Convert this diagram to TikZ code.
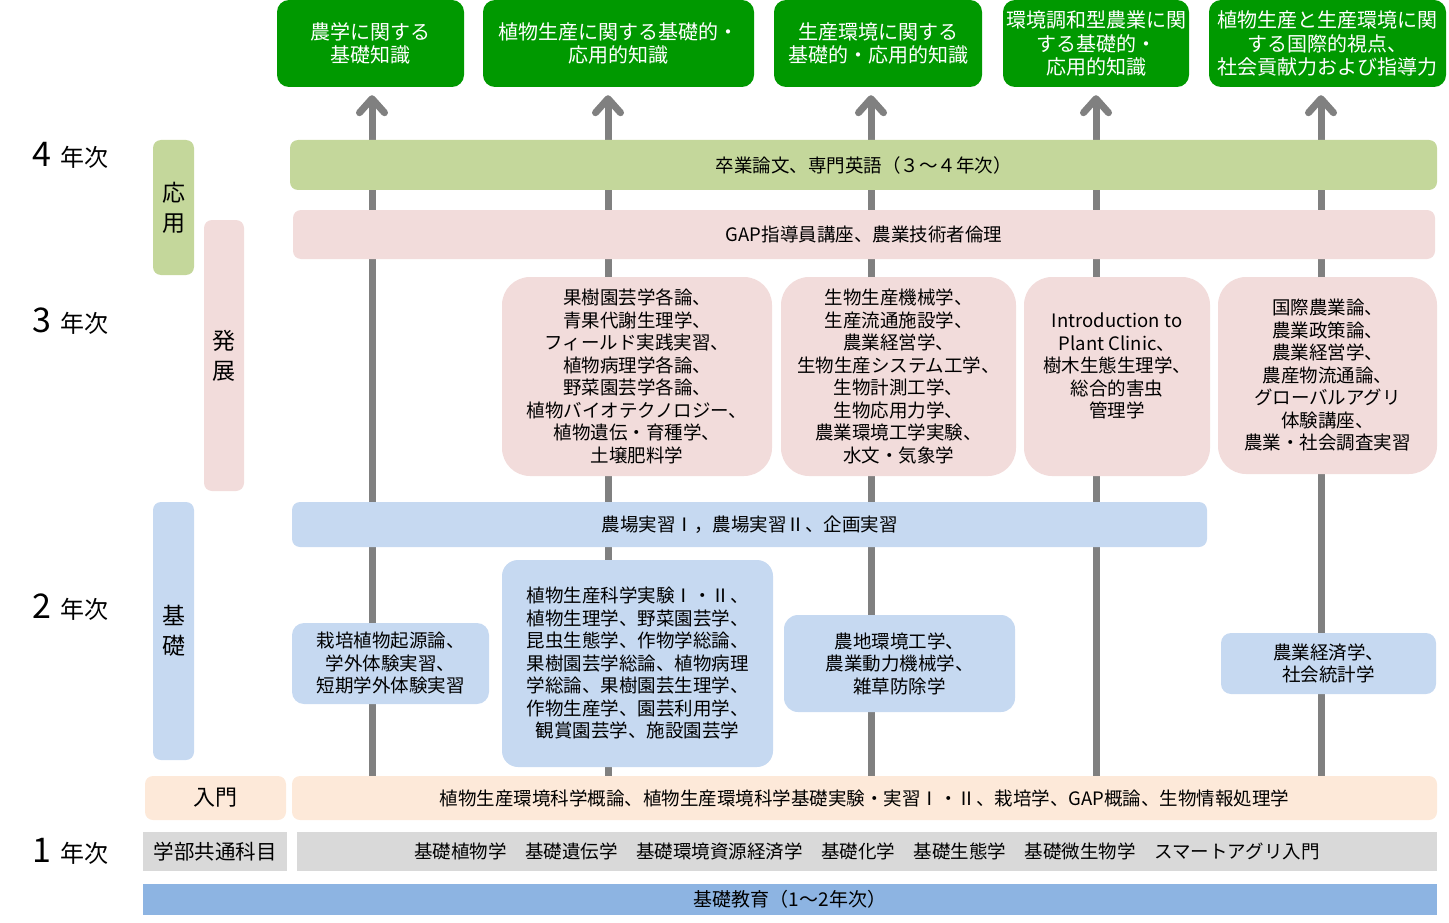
\documentclass[tikz,border=0pt]{standalone}
\usepackage{fontspec}
\setmainfont{Noto Sans CJK JP}
\usetikzlibrary{arrows.meta, backgrounds}

\definecolor{goalgreen}{HTML}{009900}
\definecolor{applgreen}{HTML}{C4D79B}
\definecolor{devpink}{HTML}{F2DCDB}
\definecolor{basicblue}{HTML}{C6D9F1}
\definecolor{intropeach}{HTML}{FDE9D9}
\definecolor{commongray}{HTML}{D9D9D9}
\definecolor{edublue}{HTML}{8DB4E2}
\definecolor{flowgray}{HTML}{808080}

\begin{document}
\begin{tikzpicture}[x=1pt, y=-1pt,
    box/.style={inner sep=0pt, align=center, font=\fontsize{18.5}{22.5}\selectfont},
    goal/.style={box, fill=goalgreen, rounded corners=12pt, text=white, font=\fontsize{20}{23.5}\selectfont},
    band/.style={box, rounded corners=8pt},
    stage/.style={inner sep=0pt, align=center, rounded corners=8pt, font=\fontsize{23}{30}\selectfont},
    year/.style={anchor=base west, inner sep=0pt},
    flow/.style={flowgray, line width=7pt, -{Straight Barb[round, length=14pt, width=25pt]}}
  ]
    \useasboundingbox (0,0) rectangle (1449,923);

    % goals
    \node[goal, minimum width=187pt, minimum height=87pt] (g1) at (370.5,43.5) {農学に関する\\基礎知識};
    \node[goal, minimum width=271pt, minimum height=87pt] (g2) at (618.5,43.5) {植物生産に関する基礎的・\\応用的知識};
    \node[goal, minimum width=208pt, minimum height=87pt] (g3) at (878,43.5) {生産環境に関する\\基礎的・応用的知識};
    \node[goal, minimum width=186pt, minimum height=87pt] (g4) at (1096,43.5) {環境調和型農業に関\\する基礎的・\\応用的知識};
    \node[goal, minimum width=237pt, minimum height=87pt] (g5) at (1327.5,43.5) {植物生産と生産環境に関\\する国際的視点、\\社会貢献力および指導力};

    % years
    \node[year] (yr4) at (32,167) {{\fontsize{34}{34}\selectfont 4}\hspace{9pt}{\fontsize{24}{24}\selectfont 年次}};
    \node[year] (yr3) at (32,332) {{\fontsize{34}{34}\selectfont 3}\hspace{9pt}{\fontsize{24}{24}\selectfont 年次}};
    \node[year] (yr2) at (32,618) {{\fontsize{34}{34}\selectfont 2}\hspace{9pt}{\fontsize{24}{24}\selectfont 年次}};
    \node[year] (yr1) at (32,862) {{\fontsize{34}{34}\selectfont 1}\hspace{9pt}{\fontsize{24}{24}\selectfont 年次}};

    % stages
    \node[stage, fill=applgreen, minimum width=41pt, minimum height=135pt] (appl) at (173.5,207.5) {応\\用};
    \node[stage, fill=devpink, minimum width=40pt, minimum height=271pt] (dev) at (224,355.5) {発\\展};
    \node[stage, fill=basicblue, minimum width=41pt, minimum height=258pt] (basic) at (173.5,631) {基\\礎};

    % 4th / 3rd year
    \node[band, fill=applgreen, minimum width=1147pt, minimum height=50pt] (thesis) at (863.5,165) {卒業論文、専門英語（３～４年次）};
    \node[band, fill=devpink, minimum width=1142pt, minimum height=49pt] (gapb) at (864,234.5) {GAP指導員講座、農業技術者倫理};
    \node[box, fill=devpink, rounded corners=28pt, minimum width=270pt, minimum height=199pt] (p1) at (637,376.5)
        {果樹園芸学各論、\\青果代謝生理学、\\フィールド実践実習、\\植物病理学各論、\\野菜園芸学各論、\\植物バイオテクノロジー、\\植物遺伝・育種学、\\土壌肥料学};
    \node[box, fill=devpink, rounded corners=28pt, minimum width=235pt, minimum height=199pt] (p2) at (898.5,376.5)
        {生物生産機械学、\\生産流通施設学、\\農業経営学、\\生物生産システム工学、\\生物計測工学、\\生物応用力学、\\農業環境工学実験、\\水文・気象学};
    \node[box, fill=devpink, rounded corners=28pt, minimum width=186pt, minimum height=199pt] (p3) at (1117,376.5)
        {Introduction to\\Plant Clinic、\\樹木生態生理学、\\総合的害虫\\管理学\\\mbox{}};
    \node[box, fill=devpink, rounded corners=28pt, minimum width=219pt, minimum height=197pt] (p4) at (1327.5,375.5)
        {国際農業論、\\農業政策論、\\農業経営学、\\農産物流通論、\\グローバルアグリ\\体験講座、\\農業・社会調査実習};

    % 2nd year
    \node[band, fill=basicblue, minimum width=915pt, minimum height=45pt] (farm) at (749.5,524.5) {農場実習Ⅰ，農場実習Ⅱ、企画実習};
    \node[box, fill=basicblue, rounded corners=12pt, minimum width=197pt, minimum height=81pt] (b1) at (390.5,663.5)
        {栽培植物起源論、\\学外体験実習、\\短期学外体験実習};
    \node[box, fill=basicblue, rounded corners=16pt, minimum width=271pt, minimum height=207pt] (b2) at (637.5,663.5)
        {植物生産科学実験Ⅰ・Ⅱ、\\植物生理学、野菜園芸学、\\昆虫生態学、作物学総論、\\果樹園芸学総論、植物病理\\学総論、果樹園芸生理学、\\作物生産学、園芸利用学、\\観賞園芸学、施設園芸学};
    \node[box, fill=basicblue, rounded corners=14pt, minimum width=231pt, minimum height=97pt] (b3) at (899.5,663.5)
        {農地環境工学、\\農業動力機械学、\\雑草防除学};
    \node[box, fill=basicblue, rounded corners=10pt, minimum width=215pt, minimum height=61pt] (b4) at (1328.5,663.5)
        {農業経済学、\\社会統計学};

    % 1st year
    \node[band, fill=intropeach, minimum width=141pt, minimum height=44pt, font=\fontsize{22}{22}\selectfont] (introl) at (215.5,798) {入門};
    \node[band, fill=intropeach, minimum width=1145pt, minimum height=44pt] (intro) at (864.5,798)
        {植物生産環境科学概論、植物生産環境科学基礎実験・実習Ⅰ・Ⅱ、栽培学、GAP概論、生物情報処理学};
    \node[box, fill=commongray, minimum width=144pt, minimum height=39pt, font=\fontsize{20.5}{20}\selectfont] (commonl) at (215,851.5) {学部共通科目};
    \node[box, fill=commongray, minimum width=1140pt, minimum height=39pt] (common) at (867,851.5)
        {基礎植物学　基礎遺伝学　基礎環境資源経済学　基礎化学　基礎生態学　基礎微生物学　スマートアグリ入門};
    \node[box, fill=edublue, minimum width=1294pt, minimum height=31pt, font=\fontsize{19}{20}\selectfont] (edu) at (790,899.5) {基礎教育（1～2年次）};

    % flows
    \coordinate (a1) at (372,0);
    \coordinate (a2) at (608,0);
    \coordinate (a3) at (871,0);
    \coordinate (a4) at (1096,0);
    \coordinate (a5) at (1321,0);
    \begin{scope}[on background layer]
        \foreach \i in {1,...,5}
            \draw[flow, shorten >=8pt] (intro.north -| a\i) -- (g\i.south -| a\i);
    \end{scope}
\end{tikzpicture}
\end{document}
